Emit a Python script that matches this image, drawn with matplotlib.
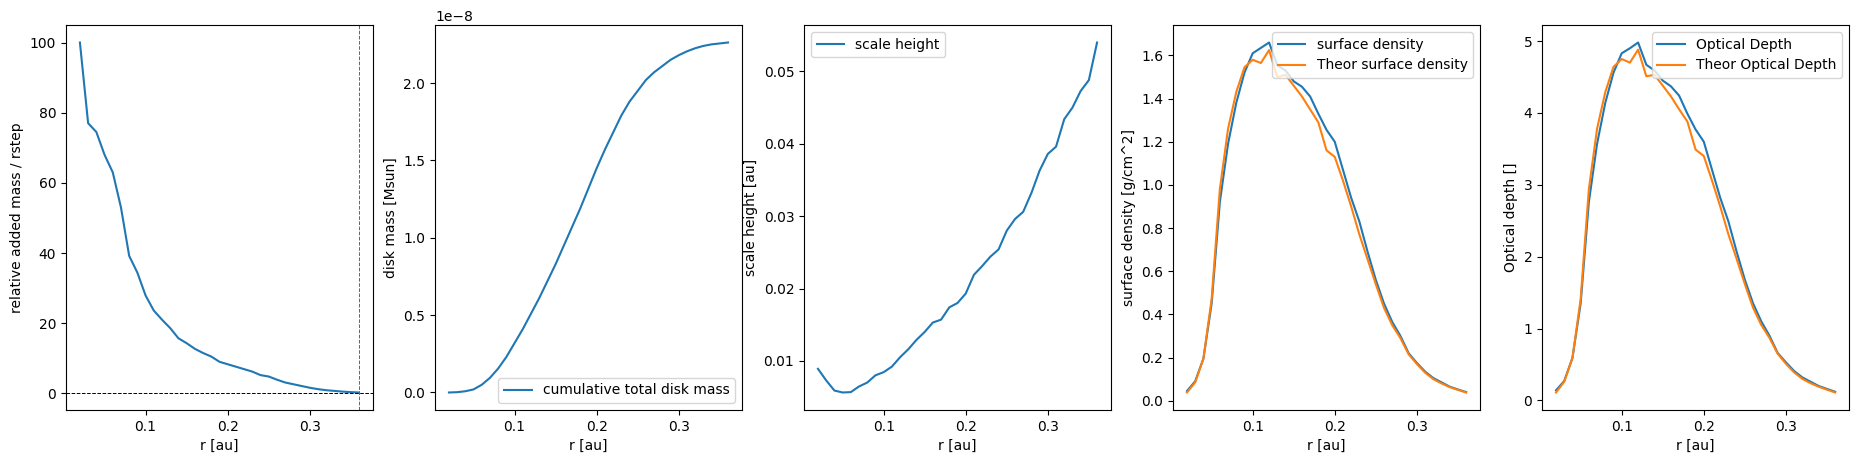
import numpy as np
import matplotlib
matplotlib.use("Agg")
import matplotlib.pyplot as plt

r = np.round(np.arange(0.02, 0.365, 0.01), 2)

added_mass = [100, 77, 74.5, 68, 63, 53, 39.2, 34.4, 27.9, 23.6, 21, 18.6, 15.7, 14.3,
              12.7, 11.5, 10.5, 9.0, 8.3, 7.6, 6.9, 6.2, 5.2, 4.8, 3.9, 3.1, 2.6, 2.1,
              1.6, 1.2, 0.9, 0.7, 0.5, 0.35, 0.25]

disk_mass = np.array([0, 0.002, 0.008, 0.02, 0.05, 0.095, 0.155, 0.23, 0.32, 0.41, 0.51,
                      0.61, 0.72, 0.83, 0.95, 1.07, 1.19, 1.32, 1.45, 1.57, 1.68, 1.79,
                      1.88, 1.95, 2.02, 2.07, 2.11, 2.15, 2.18, 2.205, 2.225, 2.24, 2.25,
                      2.256, 2.262]) * 1e-8

scale_height = [0.0089, 0.0073, 0.0059, 0.00563, 0.00568, 0.00646, 0.0070, 0.0080, 0.00844,
                0.0092, 0.0105, 0.0116, 0.0129, 0.0140, 0.0153, 0.0157, 0.0174, 0.0180,
                0.0193, 0.0219, 0.0231, 0.0244, 0.0254, 0.0280, 0.0296, 0.0306, 0.0332,
                0.0363, 0.0386, 0.0396, 0.0434, 0.0450, 0.0473, 0.0488, 0.0540]

sigma = [0.045, 0.09, 0.195, 0.45, 0.92, 1.19, 1.38, 1.52, 1.61, 1.635, 1.66, 1.555, 1.53,
         1.48, 1.455, 1.41, 1.33, 1.255, 1.20, 1.07, 0.94, 0.83, 0.69, 0.56, 0.45, 0.365,
         0.30, 0.22, 0.175, 0.135, 0.105, 0.085, 0.065, 0.052, 0.04]
sigma_theor = [0.038, 0.085, 0.195, 0.47, 0.98, 1.26, 1.43, 1.545, 1.58, 1.565, 1.625, 1.50,
               1.51, 1.46, 1.41, 1.35, 1.29, 1.16, 1.13, 1.02, 0.90, 0.77, 0.655, 0.54,
               0.43, 0.35, 0.29, 0.215, 0.17, 0.13, 0.10, 0.08, 0.063, 0.05, 0.038]

tau = [0.14, 0.27, 0.59, 1.35, 2.76, 3.57, 4.14, 4.56, 4.83, 4.90, 4.98, 4.67, 4.59, 4.45,
       4.37, 4.24, 3.99, 3.77, 3.60, 3.21, 2.82, 2.49, 2.07, 1.68, 1.35, 1.10, 0.90, 0.66,
       0.53, 0.41, 0.32, 0.26, 0.20, 0.16, 0.12]
tau_theor = [0.11, 0.26, 0.59, 1.41, 2.94, 3.78, 4.29, 4.64, 4.75, 4.70, 4.88, 4.51, 4.53,
             4.38, 4.23, 4.05, 3.88, 3.49, 3.40, 3.06, 2.70, 2.31, 1.97, 1.62, 1.29, 1.05,
             0.87, 0.65, 0.51, 0.39, 0.30, 0.24, 0.19, 0.15, 0.11]

fig, axs = plt.subplots(1, 5, figsize=(18.58, 4.63), dpi=100)
fig.subplots_adjust(left=0.0355, right=0.9952, bottom=0.1145, top=0.946, wspace=0.202)

ax = axs[0]
ax.plot(r, added_mass)
ax.axhline(0, color="k", ls="--", lw=0.7)
ax.axvline(r[-1], color="C0", ls="--", lw=0.7)
ax.set_xlabel("r [au]")
ax.set_ylabel("relative added mass / rstep")

ax = axs[1]
ax.plot(r, disk_mass, label="cumulative total disk mass")
ax.set_xlabel("r [au]")
ax.set_ylabel("disk mass [Msun]")
ax.legend(loc="lower right")

ax = axs[2]
ax.plot(r, scale_height, label="scale height")
ax.set_xlabel("r [au]")
ax.set_ylabel("scale height [au]")
ax.legend(loc="upper left")

ax = axs[3]
ax.plot(r, sigma, label="surface density")
ax.plot(r, sigma_theor, label="Theor surface density")
ax.set_xlabel("r [au]")
ax.set_ylabel("surface density [g/cm^2]")
ax.legend(loc="upper right")

ax = axs[4]
ax.plot(r, tau, label="Optical Depth")
ax.plot(r, tau_theor, label="Theor Optical Depth")
ax.set_xlabel("r [au]")
ax.set_ylabel("Optical depth []")
ax.legend(loc="upper right")

fig.savefig("out.png")
